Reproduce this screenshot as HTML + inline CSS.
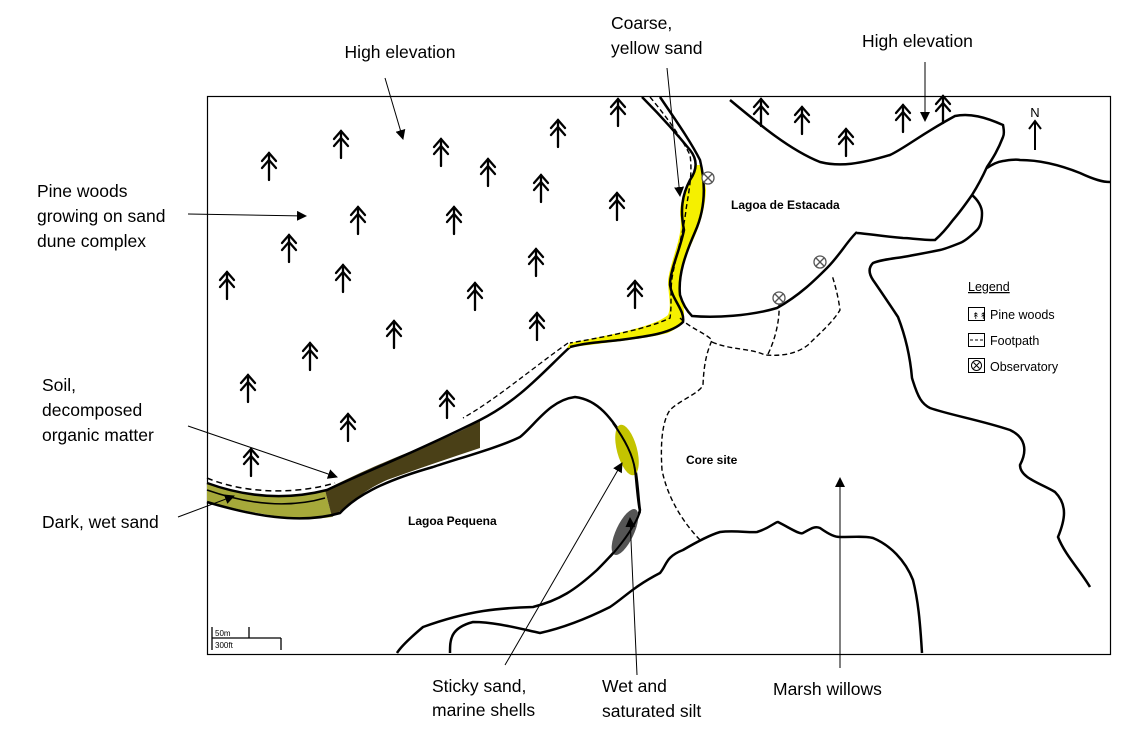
<!DOCTYPE html>
<html><head><meta charset="utf-8"><style>
html,body{margin:0;padding:0;background:#fff;}
svg{display:block;font-family:"Liberation Sans",Arial,sans-serif;}
</style></head><body>
<svg width="1128" height="729" viewBox="0 0 1128 729" xmlns="http://www.w3.org/2000/svg">
<defs>
<marker id="ah" markerWidth="10" markerHeight="10" refX="9" refY="5" orient="auto" markerUnits="userSpaceOnUse">
<path d="M0,0 L10,5 L0,10 z" fill="#000"/></marker>
<g id="tree" fill="none" stroke="#000" stroke-width="2.3" stroke-linecap="round">
<line x1="0" y1="-13" x2="0" y2="14"/>
<polyline points="-7,-5 0,-13 7,-5"/>
<polyline points="-7,2 0,-6 7,2"/>
</g>
<g id="obs" fill="#fff" stroke="#555" stroke-width="1.3">
<circle r="6"/><line x1="-4" y1="-4" x2="4" y2="4"/><line x1="-4" y1="4" x2="4" y2="-4"/>
</g>
</defs>
<rect x="207.5" y="96.5" width="903" height="558" fill="#fff" stroke="#000" stroke-width="1.2"/>

<!-- dark wet sand & soil bands -->
<path d="M207,483 C240,495 280,502 325,490 L332,517 C300,522 260,515 207,502 Z" fill="#a6a93a"/>
<path d="M325,490 C360,472 400,455 433,443 C455,434 470,427 480,420 L480,448 C450,458 420,468 387,480 C360,492 350,505 332,517 Z" fill="#4a4017"/>
<path d="M207,483 C240,495 280,502 327,490 C370,470 420,450 480,420 C520,400 545,370 570,347" fill="none" stroke="#000" stroke-width="2.5"/>
<path d="M207,502 C250,515 300,525 340,513 C355,497 380,482 433,467 C460,458 500,447 520,437 C535,425 550,400 575,397 C600,400 612,420 630,447 C638,470 638,500 640,510 C635,530 615,552 597,570 C575,590 560,600 533,607 C500,608 470,610 423,627 C410,638 400,648 397,653" fill="none" stroke="#000" stroke-width="2.5"/>
<path d="M207,490 C250,505 290,508 325,498" fill="none" stroke="#000" stroke-width="1.5"/>
<path d="M207,478 C240,492 290,496 335,483" fill="none" stroke="#000" stroke-width="1.5" stroke-dasharray="6,4"/>
<path d="M568,343 C530,370 495,400 463,418" fill="none" stroke="#000" stroke-width="1.3" stroke-dasharray="5,3"/>

<!-- sticky sand & silt blobs -->
<ellipse cx="627" cy="450" rx="10" ry="26" transform="rotate(-15 627 450)" fill="#c4c400"/>
<ellipse cx="625" cy="532" rx="9" ry="25" transform="rotate(25 625 532)" fill="#555"/>
<path d="M613,423 C625,440 633,455 635,470 C637,490 638,505 640,512 C635,525 625,540 610,557" fill="none" stroke="#000" stroke-width="2"/>

<!-- second inner line -->
<path d="M450,653 C450,640 450,628 473,622 C495,622 517,628 540,633 C567,627 590,617 610,607 C625,597 633,587 660,573 C667,565 665,557 683,550 C700,540 710,535 720,532 C735,530 750,533 757,532 C770,528 775,522 778,522 C790,528 800,535 803,533 C812,528 815,526 820,528 C830,535 835,537 840,537 C855,537 865,536 873,538 C890,545 905,560 913,580 C918,600 920,620 922,653" fill="none" stroke="#000" stroke-width="2.5"/>

<!-- yellow channel -->
<path d="M697,165 C690,180 680,195 680,215 C684,235 672,255 668,280 C668,295 672,305 668,315 C655,326 620,333 570,343 L567,348 C600,343 640,340 668,333 C683,326 686,318 683,305 C678,290 678,270 686,255 C695,238 705,215 706,190 C705,180 702,170 700,165 Z" fill="#f5f000"/>
<path d="M642,97 C655,110 672,128 690,150 C698,160 697,170 690,180 C682,195 680,210 684,230 C680,250 670,270 670,285 C672,300 685,310 683,322 C672,333 650,336 620,340 C600,342 585,343 570,347" fill="none" stroke="#000" stroke-width="2.5"/>
<path d="M660,97 C672,115 690,140 700,160 C706,185 705,210 695,232 C685,255 678,275 680,295 C683,305 688,312 692,316 C715,318 750,316 777,308 C800,295 815,280 827,268 C840,255 848,240 857,232" fill="none" stroke="#000" stroke-width="2.5"/>
<path d="M650,97 C665,115 680,135 690,155 C693,175 688,195 686,210 C683,235 676,255 672,278 C670,295 672,305 670,318 C650,328 610,336 570,343" fill="none" stroke="#000" stroke-width="1.4" stroke-dasharray="5,3"/>
<path d="M680,318 C690,328 705,333 712,340 C708,350 704,360 703,385 C700,393 680,400 670,410 C663,420 660,440 662,470 C668,500 685,525 702,542" fill="none" stroke="#000" stroke-width="1.4" stroke-dasharray="5,3"/>
<path d="M712,342 C730,350 750,348 765,355 C780,356 795,355 808,345 C820,333 833,322 840,310 C838,295 835,285 832,275" fill="none" stroke="#000" stroke-width="1.4" stroke-dasharray="5,3"/>
<path d="M768,354 C775,340 780,320 779,304" fill="none" stroke="#000" stroke-width="1.4" stroke-dasharray="5,3"/>

<!-- Estacada shores -->
<path d="M730,100 C760,125 790,150 820,162 C840,167 860,164 890,155 C905,148 920,135 955,116 C970,113 985,117 1003,125 C1004,130 1004,135 1003,137 C998,150 993,158 987,167 C982,178 977,187 972,195 C965,205 960,212 953,220 C947,228 942,234 935,240 C920,240 910,238 903,238 C880,236 870,234 857,233" fill="none" stroke="#000" stroke-width="2.5"/>
<path d="M972,195 C978,200 982,207 982,213 C982,222 980,227 977,230 C970,237 965,241 960,243 C950,247 945,249 940,250 C925,253 915,255 903,257 C890,259 880,260 873,263 C868,268 869,274 873,280 C880,290 890,305 898,317 C905,335 910,355 912,378 C918,398 922,404 930,408 C950,415 980,420 1010,430 C1025,437 1028,450 1020,465 C1020,478 1040,483 1055,492 C1068,505 1065,520 1058,537 C1065,555 1080,570 1090,587" fill="none" stroke="#000" stroke-width="2.5"/>
<path d="M987,168 C993,164 997,162 1003,161 C1010,160 1015,159 1020,160 C1040,160 1060,165 1080,173 C1095,180 1103,182 1110,182" fill="none" stroke="#000" stroke-width="2.5"/>

<!-- observatories -->
<use href="#obs" x="708" y="178"/>
<use href="#obs" x="820" y="262"/>
<use href="#obs" x="779" y="298"/>

<!-- trees -->
<use href="#tree" x="269" y="166"/><use href="#tree" x="341" y="144"/><use href="#tree" x="441" y="152"/>
<use href="#tree" x="488" y="172"/><use href="#tree" x="558" y="133"/><use href="#tree" x="618" y="112"/>
<use href="#tree" x="541" y="188"/><use href="#tree" x="617" y="206"/><use href="#tree" x="358" y="220"/>
<use href="#tree" x="454" y="220"/><use href="#tree" x="289" y="248"/><use href="#tree" x="536" y="262"/>
<use href="#tree" x="343" y="278"/><use href="#tree" x="227" y="285"/><use href="#tree" x="475" y="296"/>
<use href="#tree" x="635" y="294"/><use href="#tree" x="394" y="334"/><use href="#tree" x="537" y="326"/>
<use href="#tree" x="310" y="356"/><use href="#tree" x="248" y="388"/><use href="#tree" x="447" y="404"/>
<use href="#tree" x="348" y="427"/><use href="#tree" x="251" y="462"/>
<use href="#tree" x="761" y="112"/><use href="#tree" x="802" y="120"/><use href="#tree" x="846" y="142"/>
<use href="#tree" x="903" y="118"/><use href="#tree" x="943" y="109"/>

<!-- North arrow -->
<text x="1035" y="117" font-size="13" text-anchor="middle">N</text>
<line x1="1035" y1="122" x2="1035" y2="150" stroke="#000" stroke-width="2"/>
<polyline points="1029,129 1035,121 1041,129" fill="none" stroke="#000" stroke-width="2"/>

<!-- legend -->
<text x="968" y="291" font-size="12.5" text-decoration="underline">Legend</text>
<rect x="968.5" y="307.5" width="16" height="13" fill="none" stroke="#000"/>
<text x="972" y="319" font-size="9">↟↟</text>
<text x="990" y="319" font-size="12.5">Pine woods</text>
<rect x="968.5" y="333.5" width="16" height="13" fill="none" stroke="#000"/>
<line x1="970" y1="340" x2="983" y2="340" stroke="#000" stroke-dasharray="3,2"/>
<text x="990" y="345" font-size="12.5">Footpath</text>
<rect x="968.5" y="358.5" width="16" height="14" fill="none" stroke="#000"/>
<circle cx="976.5" cy="365.5" r="5" fill="none" stroke="#000"/>
<line x1="973.5" y1="362.5" x2="979.5" y2="368.5" stroke="#000"/><line x1="973.5" y1="368.5" x2="979.5" y2="362.5" stroke="#000"/>
<text x="990" y="371" font-size="12.5">Observatory</text>

<!-- map labels -->
<text x="731" y="209" font-size="12" font-weight="bold">Lagoa de Estacada</text>
<text x="686" y="464" font-size="12" font-weight="bold">Core site</text>
<text x="408" y="525" font-size="12" font-weight="bold">Lagoa Pequena</text>

<!-- scale bar -->
<g stroke="#000" stroke-width="1.3" fill="none">
<line x1="212" y1="627" x2="212" y2="650"/><line x1="212" y1="638" x2="281" y2="638"/>
<line x1="249" y1="627" x2="249" y2="638"/><line x1="281" y1="638" x2="281" y2="650"/>
</g>
<text x="215" y="636" font-size="8">50m</text>
<text x="215" y="648" font-size="8">300ft</text>

<!-- annotation arrows -->
<g stroke="#000" stroke-width="1" marker-end="url(#ah)">
<line x1="385" y1="78" x2="403" y2="139"/>
<line x1="667" y1="68" x2="680" y2="196"/>
<line x1="925" y1="62" x2="925" y2="121"/>
<line x1="188" y1="214" x2="306" y2="216"/>
<line x1="188" y1="426" x2="337" y2="477"/>
<line x1="178" y1="517" x2="234" y2="496"/>
<line x1="505" y1="665" x2="622" y2="463"/>
<line x1="637" y1="675" x2="630" y2="518"/>
<line x1="840" y1="668" x2="840" y2="478"/>
</g>

<!-- annotation text -->
<g font-size="17.5" fill="#000">
<text x="400" y="58" text-anchor="middle">High elevation</text>
<text x="611" y="29">Coarse,</text>
<text x="611" y="54">yellow sand</text>
<text x="862" y="47">High elevation</text>
<text x="37" y="197">Pine woods</text>
<text x="37" y="222">growing on sand</text>
<text x="37" y="247">dune complex</text>
<text x="42" y="391">Soil,</text>
<text x="42" y="416">decomposed</text>
<text x="42" y="441">organic matter</text>
<text x="42" y="528">Dark, wet sand</text>
<text x="432" y="692">Sticky sand,</text>
<text x="432" y="716">marine shells</text>
<text x="602" y="692">Wet and</text>
<text x="602" y="717">saturated silt</text>
<text x="773" y="695">Marsh willows</text>
</g>
</svg>
</body></html>
